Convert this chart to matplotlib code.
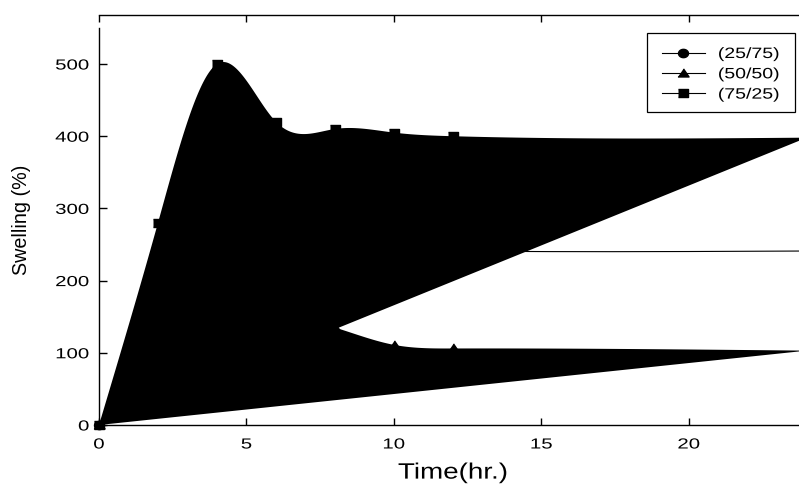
import numpy as np
import matplotlib
matplotlib.use("Agg")
import matplotlib.pyplot as plt
from matplotlib import patheffects
from matplotlib.transforms import Affine2D
from matplotlib.lines import Line2D
from matplotlib.patches import Rectangle

# Swelling data (%) versus immersion time (hr)
time_hr = [0, 2, 4, 6, 8, 10, 12, 24]
swell_25_75 = [0, 170, 290, 265, 245, 242, 241, 241]
swell_50_50 = [0, 120, 180, 160, 135, 111, 106, 103]
swell_75_25 = [0, 280, 500, 420, 410, 405, 400, 398]
series_labels = ["(25/75)", "(50/50)", "(75/25)"]
x_ticks = [0, 5, 10, 15, 20]
y_ticks = [0, 100, 200, 300, 400, 500]

plt.rcParams["font.family"] = ["Liberation Sans", "DejaVu Sans"]


def natural_cubic(x, y, num=800):
    """Natural cubic spline through (x, y), evaluated on a dense grid."""
    x = np.asarray(x, float)
    y = np.asarray(y, float)
    n = len(x)
    h = np.diff(x)
    A = np.zeros((n, n))
    r = np.zeros(n)
    A[0, 0] = A[-1, -1] = 1.0
    for i in range(1, n - 1):
        A[i, i - 1] = h[i - 1]
        A[i, i] = 2 * (h[i - 1] + h[i])
        A[i, i + 1] = h[i]
        r[i] = 6 * ((y[i + 1] - y[i]) / h[i] - (y[i] - y[i - 1]) / h[i - 1])
    M = np.linalg.solve(A, r)
    xs = np.linspace(x[0], x[-1], num)
    idx = np.clip(np.searchsorted(x, xs, side="right") - 1, 0, n - 2)
    x0, x1 = x[idx], x[idx + 1]
    hh = x1 - x0
    a = (x1 - xs) / hh
    b = (xs - x0) / hh
    ys = a * y[idx] + b * y[idx + 1] + ((a ** 3 - a) * M[idx] + (b ** 3 - b) * M[idx + 1]) * hh ** 2 / 6
    return xs, ys


class Stretch(patheffects.AbstractPathEffect):
    """Widen glyph outlines along the text direction."""

    def __init__(self, sx=1.0, anchor="center"):
        super().__init__()
        self._sx = sx
        self._anchor = anchor

    def draw_path(self, renderer, gc, tpath, affine, rgbFace=None):
        ext = tpath.get_extents()
        if self._anchor == "left":
            cx = ext.x0
        elif self._anchor == "right":
            cx = ext.x1
        else:
            cx = 0.5 * (ext.x0 + ext.x1)
        local = Affine2D().translate(-cx, 0).scale(self._sx, 1.0).translate(cx, 0)
        renderer.draw_path(gc, tpath, local + affine, rgbFace)


def wide_marker(kind, aspect=1.2):
    if kind == "o":
        t = np.linspace(0, 2 * np.pi, 40)
        return list(zip(aspect * np.cos(t), np.sin(t)))
    if kind == "^":
        return [(-aspect, -0.75), (aspect, -0.75), (0, 1.0)]
    return [(-aspect, -1), (aspect, -1), (aspect, 1), (-aspect, 1)]


W, H = 799, 486
fig = plt.figure(figsize=(W / 100, H / 100), dpi=100)
ax = fig.add_axes([99 / W, 61 / H, 707.8 / W, 410 / H])
ax.set_xlim(0, 24)
ax.set_ylim(0, 567.9)

mk = {"(25/75)": wide_marker("o"), "(50/50)": wide_marker("^"), "(75/25)": wide_marker("s")}
ms = {"(25/75)": 7.2, "(50/50)": 8.0, "(75/25)": 7.2}

# (25/75): smoothed line only
xs, ys = natural_cubic(time_hr, swell_25_75)
ax.plot(xs, ys, color="k", lw=0.8, zorder=2)
ax.plot(time_hr, swell_25_75, ls="none", marker=mk["(25/75)"], ms=ms["(25/75)"],
        color="k", clip_on=False, zorder=2)

# (50/50) and (75/25): smoothed curves drawn as closed filled shapes
for vals, lab in [(swell_50_50, "(50/50)"), (swell_75_25, "(75/25)")]:
    xs, ys = natural_cubic(time_hr, vals)
    ax.fill(xs, ys, color="k", lw=0, zorder=3)
    ax.plot(time_hr, vals, ls="none", marker=mk[lab], ms=ms[lab],
            color="k", clip_on=False, zorder=4)

# axes styling
ax.spines["right"].set_visible(False)
ax.spines["left"].set_bounds(0, 550)
for s in ["left", "top", "bottom"]:
    ax.spines[s].set_linewidth(1.0)
ax.set_xticks(x_ticks)
ax.set_yticks(y_ticks)
ax.tick_params(axis="x", direction="in", top=True, bottom=True, length=5, width=1,
               pad=9, labelsize=10.5, labeltop=False)
ax.tick_params(axis="y", direction="in", left=True, right=False, length=6, width=1,
               pad=7, labelsize=10.5)

xl = ax.set_xlabel("Time(hr.)", fontsize=16, labelpad=8)
xl.set_path_effects([Stretch(1.25, "center")])
ax.set_ylabel("Swelling (%)", fontsize=14.2, labelpad=24)

# legend
handles = [Line2D([], [], color="k", lw=0.8, marker=mk[l], ms=ms[l]) for l in series_labels]
leg = ax.legend(handles, series_labels, loc="upper left",
                bbox_to_anchor=(661.7 / W, 1 - 47 / H), bbox_transform=fig.transFigure,
                frameon=False, borderpad=0, borderaxespad=0, handlelength=2.9,
                handletextpad=0.86, labelspacing=0.42, fontsize=10.8)
for t in leg.get_texts():
    t.set_path_effects([Stretch(1.3, "left")])
fig.add_artist(Rectangle((646.7 / W, 1 - 112.5 / H), 148.3 / W, 79.2 / H,
                         transform=fig.transFigure, fill=False, ec="k", lw=0.9))

# tick label objects are final after a first draw
fig.canvas.draw()
for lbl in ax.xaxis.get_ticklabels():
    lbl.set_path_effects([Stretch(1.4, "center")])
for lbl in ax.yaxis.get_ticklabels():
    lbl.set_path_effects([Stretch(1.4, "right")])

fig.savefig("out.png", dpi=100)
